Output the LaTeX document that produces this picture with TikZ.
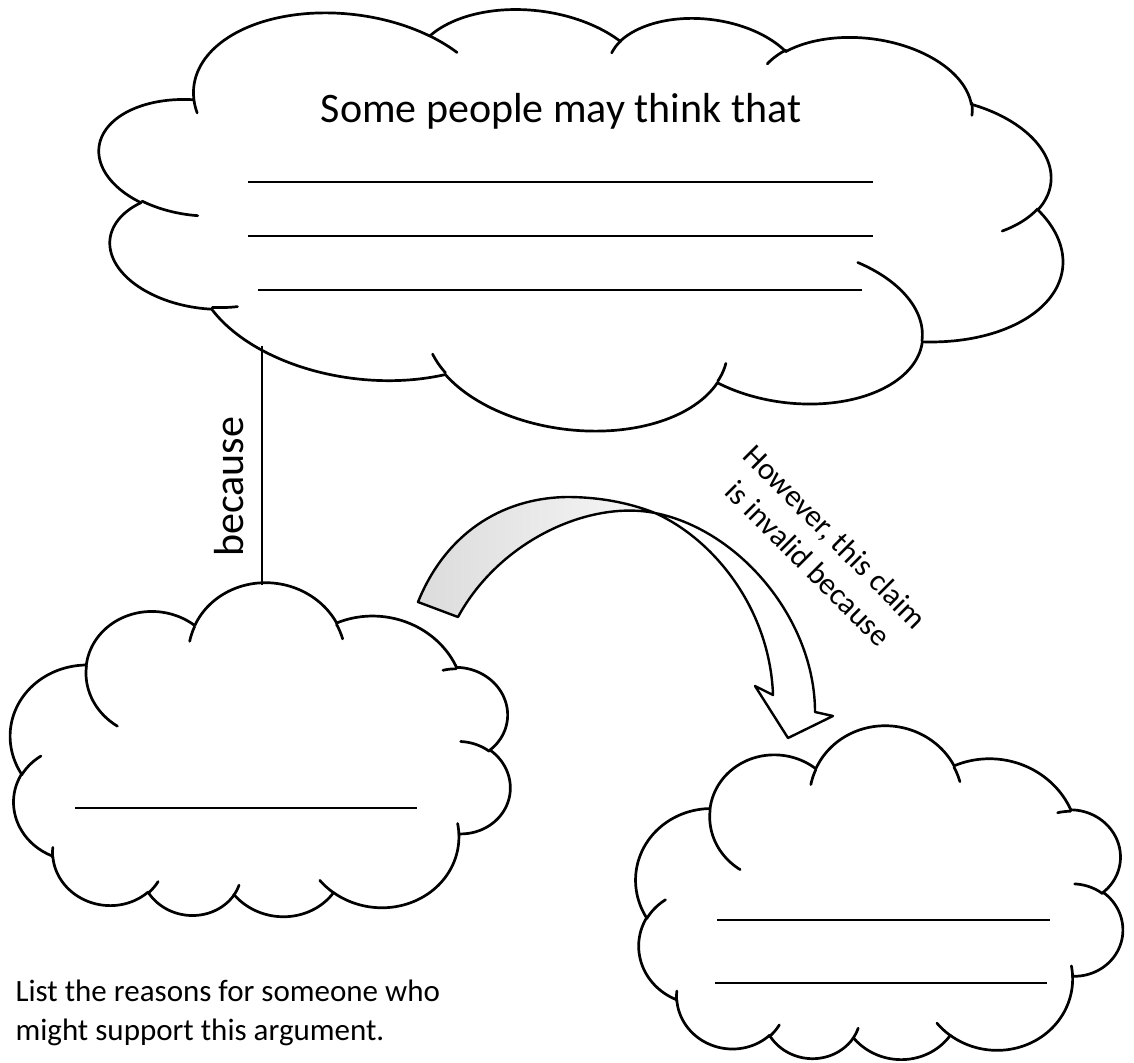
\documentclass[tikz,border=0pt]{standalone}
\usepackage{fontspec}
\setmainfont{Carlito}
% ---- preset cloud geometry (path units /100, 0..432) ----
\newcommand\cldSetup[3]{%
  \pgfmathsetmacro\cAx{#3*#1/432}%
  \pgfmathsetmacro\cAy{#3*#2/432}%
  \pgfmathsetmacro\cOx{-216*\cAx}%
  \pgfmathsetmacro\cOy{-216*\cAy}}
\newcommand\cldMove[2]{\def\cPx{#1}\def\cPy{#2}}
\newcommand\cldArc[4]{%
  \pgfmathsetmacro\cTa{atan2((#1)*sin(#3),(#2)*cos(#3))}%
  \pgfmathsetmacro\cCx{\cPx-(#1)*cos(\cTa)}%
  \pgfmathsetmacro\cCy{\cPy-(#2)*sin(\cTa)}%
  \pgfmathsetmacro\cTb{atan2((#1)*sin(#3+#4),(#2)*cos(#3+#4))}%
  \pgfmathsetmacro\cDd{\cTb-\cTa}%
  \pgfmathsetmacro\cDd{(\cDd<0) ? (\cDd+360) : (\cDd)}%
  \pgfmathsetmacro\cTe{\cTa+\cDd}%
  \draw[outline] plot[domain=\cTa:\cTe, samples=60, variable=\t]
     ({\cOx+(\cAx)*(\cCx+(#1)*cos(\t))},{\cOy+(\cAy)*(\cCy+(#2)*sin(\t))});%
  \pgfmathsetmacro\cPx{\cCx+(#1)*cos(\cTe)}%
  \pgfmathsetmacro\cPy{\cCy+(#2)*sin(\cTe)}}
\newcommand\cloudShape{%
  \cldMove{39.00}{143.70}%
  \cldArc{67.53}{91.90}{-190.48748}{123.78053}%
  \cldArc{53.33}{72.67}{-144.10238}{89.94523}%
  \cldArc{43.65}{59.45}{-145.80792}{99.72302}%
  \cldArc{48.57}{65.95}{-130.98607}{117.24173}%
  \cldArc{53.33}{72.73}{-78.70888}{109.02692}%
  \cldArc{67.75}{92.20}{-46.26725}{130.269}%
  \cldArc{57.85}{78.67}{0.62502}{114.03333}%
  \cldArc{67.52}{92.15}{22.4516}{115.17255}%
  \cldArc{77.20}{105.43}{66.24263}{75.71102}%
  \cldArc{43.60}{59.18}{-274.94208}{146.73557}%
  \cldArc{43.45}{59.45}{-246.8285}{152.51885}%
  \cldMove{46.93}{261.77}\cldArc{43.45}{59.45}{86.742}{26.4295}%
  \cldMove{69.28}{348.99}\cldArc{43.60}{59.18}{73.61047}{11.44747}%
  \cldMove{164.78}{390.90}\cldArc{67.52}{92.15}{137.62415}{14.0811}%
  \cldMove{288.27}{347.51}\cldArc{67.52}{92.15}{6.45327}{15.99835}%
  \cldMove{341.29}{229.54}\cldArc{57.85}{78.67}{-70.29235}{70.91737}%
  \cldMove{417.98}{153.54}\cldArc{53.33}{72.73}{30.31803}{27.7515}%
  \cldMove{383.24}{54.26}\cldArc{48.57}{65.95}{-13.74433}{14.85983}%
  \cldMove{290.78}{39.52}\cldArc{48.57}{65.95}{-149.18145}{18.19537}%
  \cldMove{221.41}{47.20}\cldArc{43.65}{59.45}{-163.49427}{17.68635}%
  \cldMove{140.00}{51.92}\cldArc{67.53}{91.90}{-66.70695}{12.31935}%
  \cldMove{41.27}{157.89}\cldArc{67.53}{91.90}{157.65435}{11.85817}%
}
\begin{document}
\begin{tikzpicture}[x=1pt,y=-1pt]
\tikzset{
  outline/.style={line width=2.7pt, line cap=round, line join=round},
  rule/.style={line width=2.8pt},
  big/.style={font=\fontsize{42}{50}\selectfont},
  small/.style={font=\fontsize{31}{38}\selectfont},
}
\useasboundingbox[fill=white] (0,0) rectangle (1134,1062);

% ---------- clouds ----------
\begin{scope}[shift={(580,216)}, rotate=-6.8]
  \cldSetup{970}{424}{1}\cloudShape
\end{scope}
\begin{scope}[shift={(261,754)}, rotate=-6.8]
  \cldSetup{503}{340}{-1}\cloudShape
\end{scope}
\begin{scope}[shift={(880,897)}, rotate=-6.8]
  \cldSetup{490}{340}{-1}\cloudShape
\end{scope}

% ---------- texts and writing lines ----------
\node[big, anchor=base] (title) at (561,122) {Some people may think that};
\draw[rule] (248,182) -- (873,182);
\draw[rule] (248,236) -- (873,236);
\draw[rule] (258,290) -- (862,290);
\draw[rule] (75,808) -- (417,808);
\draw[rule] (717,920) -- (1050,920);
\draw[rule] (715,983) -- (1047,983);

% ---------- connector "because" ----------
\coordinate (topEdge) at (262,346);
\coordinate (blTop) at (262,585);
\draw[line width=2pt] (topEdge) -- (blTop);
\node[big, rotate=90, anchor=base] (because) at (243,487) {because};

% ---------- curved arrow ----------
\shade[left color=gray!28, right color=gray!6]
  (418,602) .. controls (445,535) and (500,498) .. (567,497)
  .. controls (605,497) and (635,505) .. (655,513)
  .. controls (590,500) and (500,540) .. (458,617) -- cycle;
\fill[white]
  (655,513) .. controls (715,540) and (770,610) .. (773,695)
  -- (755,686) -- (788,738) -- (833,716) -- (815,712)
  .. controls (815,620) and (740,530) .. (655,513) -- cycle;
\draw[outline, line width=2.4pt]
  (418,602) .. controls (445,535) and (500,498) .. (567,497)
  .. controls (605,497) and (635,505) .. (655,513)
  .. controls (715,540) and (770,610) .. (773,695)
  -- (755,686) -- (788,738) -- (833,716) -- (815,712)
  .. controls (815,620) and (740,530) .. (655,513)
  .. controls (590,500) and (500,540) .. (458,617) -- cycle;

\node[small, rotate=-45, align=center] (however) at (822,550) {However, this claim\\is invalid because};

% ---------- instruction ----------
\node[small, anchor=base west] (note) at (12,1001) {List the reasons for someone who};
\node[small, anchor=base west] (note2) at (12,1040) {might support this argument.};
\end{tikzpicture}
\end{document}
